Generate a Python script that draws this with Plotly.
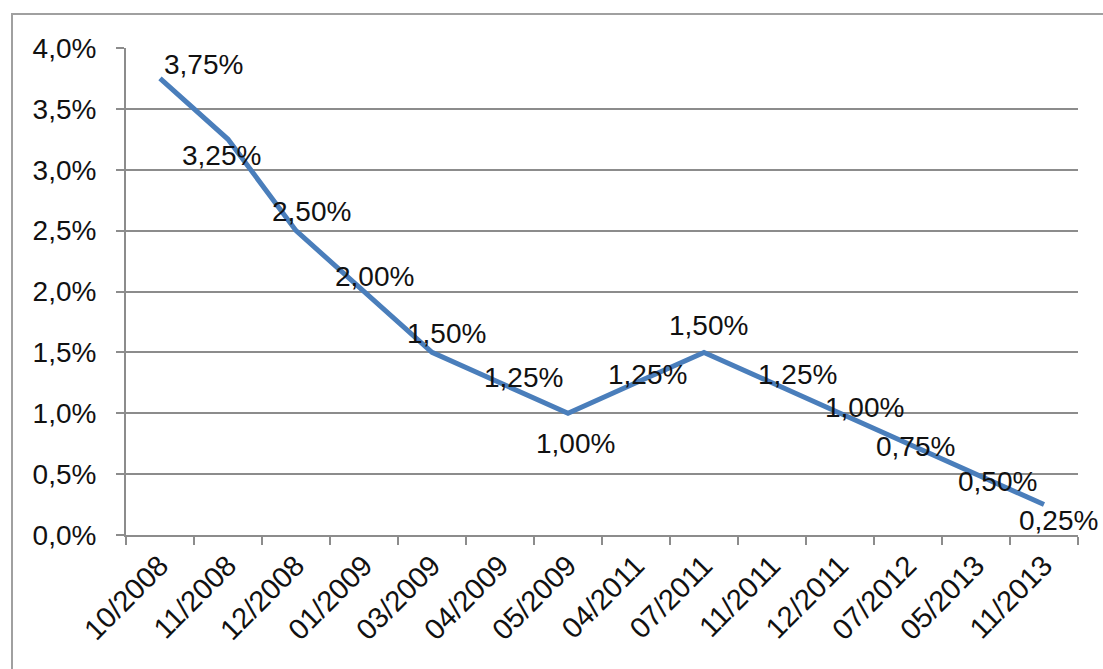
import plotly.graph_objects as go

categories = ["10/2008", "11/2008", "12/2008", "01/2009", "03/2009", "04/2009", "05/2009",
              "04/2011", "07/2011", "11/2011", "12/2011", "07/2012", "05/2013", "11/2013"]
rates = [3.75, 3.25, 2.50, 2.00, 1.50, 1.25, 1.00, 1.25, 1.50, 1.25, 1.00, 0.75, 0.50, 0.25]
labels = ["3,75%", "3,25%", "2,50%", "2,00%", "1,50%", "1,25%", "1,00%",
          "1,25%", "1,50%", "1,25%", "1,00%", "0,75%", "0,50%", "0,25%"]

# label offsets in pixels (dx right, dy down) relative to each point
label_dx = [43, -7, 15, 10, 14, 23, 7, 11, 4, 25, 24, 7, 21, 14]
label_dy = [-14, 16, -19, -15, -19, -5, 30, -8, -27, -8, -6, 3, 7, 16]

FONT = "Liberation Sans, Arial, sans-serif"

fig = go.Figure()
fig.add_trace(go.Scatter(
    x=categories, y=rates, mode="lines",
    line=dict(color="#4a7ebb", width=5),
    hoverinfo="skip", showlegend=False,
))

for c, v, t, dx, dy in zip(categories, rates, labels, label_dx, label_dy):
    fig.add_annotation(x=c, y=v, text=t, showarrow=False,
                       xshift=dx, yshift=-dy,
                       font=dict(family=FONT, size=28, color="#111111"))

fig.add_shape(type="rect", xref="paper", yref="paper",
              x0=(12 - 126) / 952, x1=1.3, y0=-0.5, y1=(535 - 14) / 487,
              line=dict(color="#a0a0a0", width=2), fillcolor="rgba(0,0,0,0)",
              layer="below")

fig.update_layout(
    width=1103, height=669,
    margin=dict(l=126, r=25, t=48, b=134),
    paper_bgcolor="white", plot_bgcolor="white",
    separators=",.",
    font=dict(family=FONT, size=28, color="#111111"),
    xaxis=dict(
        type="category", range=[-0.5, 13.5],
        showline=True, linecolor="#8c8c8c", linewidth=2,
        ticks="outside", tickson="boundaries", ticklen=8, tickcolor="#8c8c8c", tickwidth=2,
        tickangle=-45, showgrid=False,
        tickfont=dict(family=FONT, size=29, color="#111111"),
    ),
    yaxis=dict(
        range=[0, 4], dtick=0.5, tickformat=".1f", ticksuffix="%",
        showline=True, linecolor="#8c8c8c", linewidth=2,
        ticks="outside", ticklen=8, tickcolor="#8c8c8c", tickwidth=2,
        showgrid=True, gridcolor="#8c8c8c", gridwidth=2,
        zeroline=False,
        tickfont=dict(family=FONT, size=28, color="#111111"),
        ticklabelstandoff=14,
    ),
)

fig.write_html("out.html")
